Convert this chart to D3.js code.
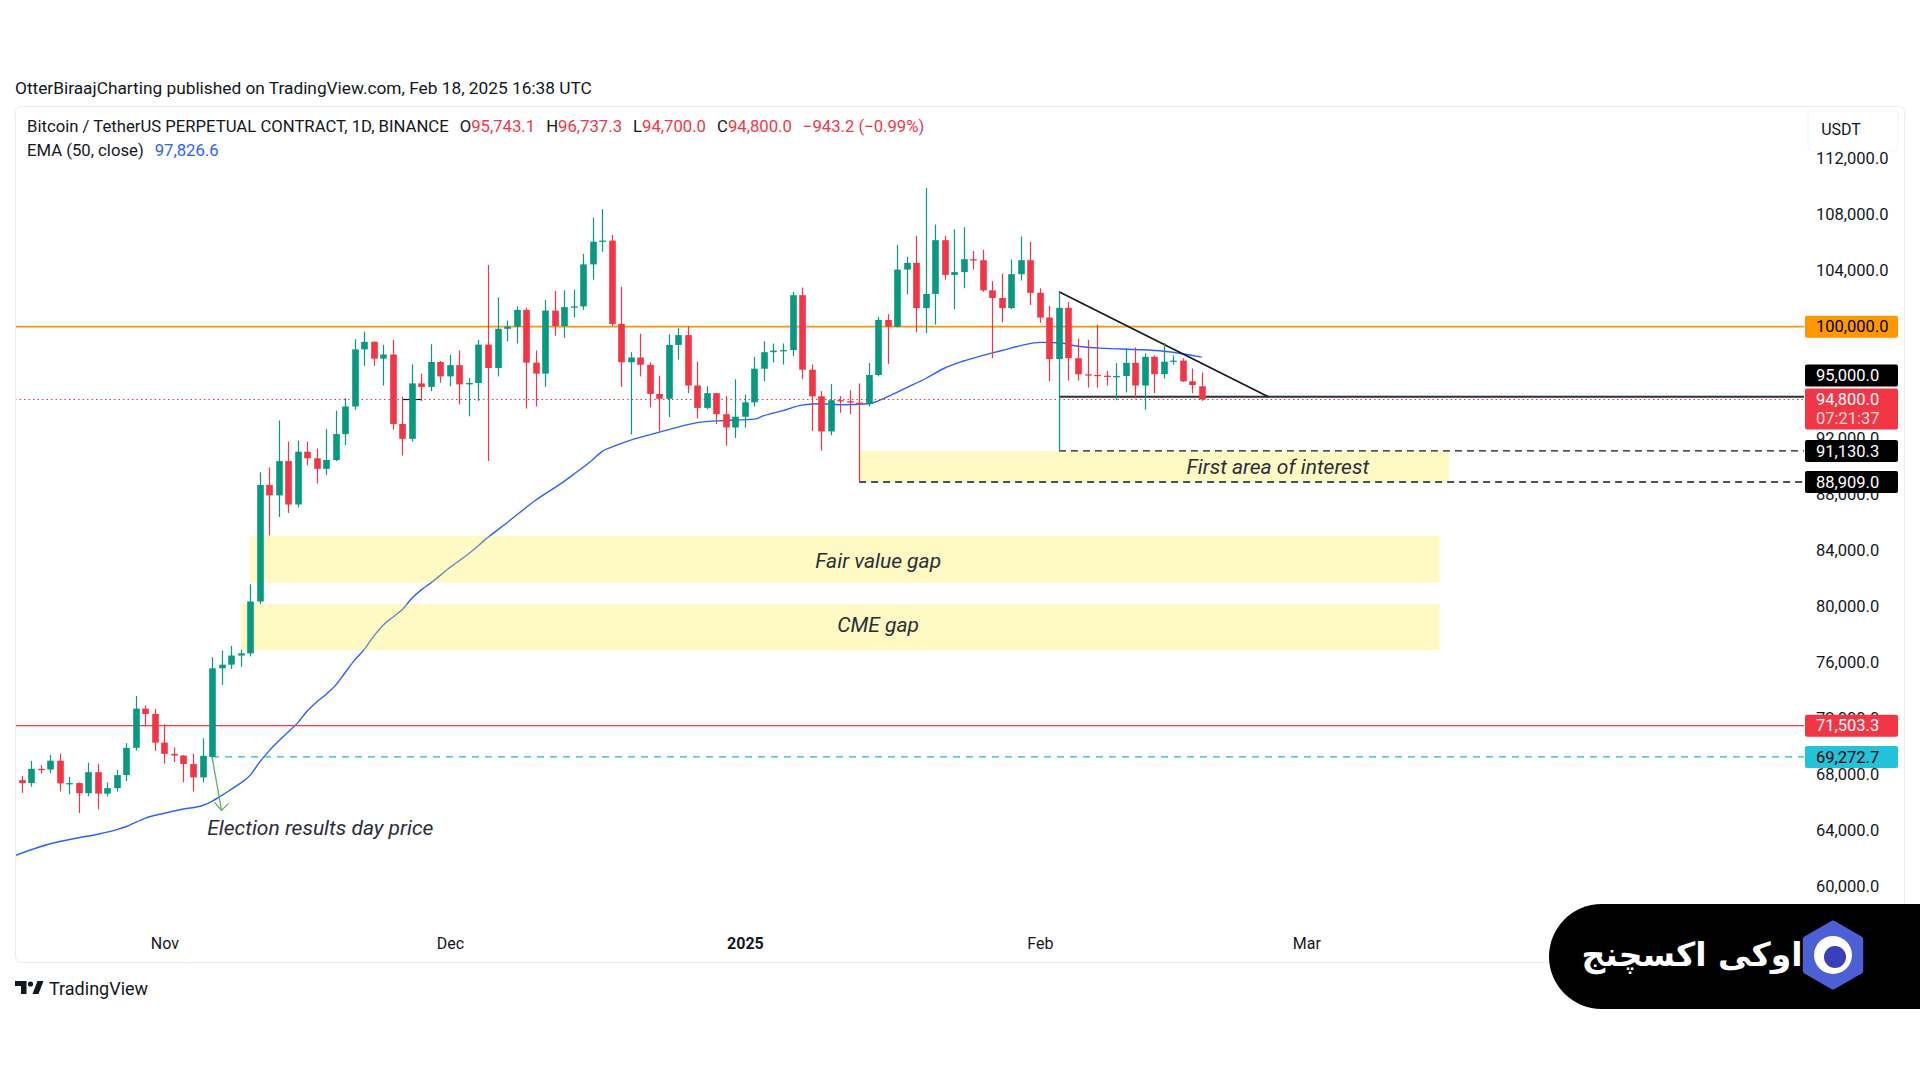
<!DOCTYPE html>
<html><head><meta charset="utf-8">
<script src="https://cdn.jsdelivr.net/npm/d3@7"></script>
<style>html,body{margin:0;padding:0;background:#fff;} svg{display:block;}</style>
</head><body><svg id="c" width="1920" height="1080"></svg>
<script>
// ---------------- DATA ----------------
const firstDay = "2024-10-16", lastDay = "2025-02-18";
const opens = [
 67050,67610,67400,68420,68370,69000,67380,67400,66680,68180,66650,67040,67970,69920,72720,72340,
 70290,69490,69370,68760,67810,69273,75600,75860,76510,76670,80370,88700,87950,90400,87300,91070,90600,89850,90480,92330,94300,98380,98920,97720,98010,93050,91990,95950,95700,97480,
 96450,97250,95880,95980,98720,97050,99850,100010,101200,97430,96650,101150,100050,101400,101450,104450,106070,106150,100200,97460,97800,97280,95200,94850,98700,99400,95800,94200,95250,93750,92800,
 93570,94600,97000,98180,98290,98330,102250,96930,95030,92520,94750,94680,94580,94500,96550,100480,100000,104080,104560,101330,102340,106180,103700,103900,104820,104750,102600,102050,101330,103750,104750,
 102420,100650,97690,101350,97750,96600,96560,96500,96460,96480,97420,95800,97850,96610,97500,97580,96100,95743.1];
const highs = [
 68420,67920,68980,68690,69400,69500,67850,67450,68850,68780,67450,68350,70250,73620,72950,72700,
 71600,69950,69400,69500,70600,76400,76880,77200,76930,81600,89600,89950,93300,91800,91850,91800,91300,92700,94000,94900,99100,99650,98950,98700,99050,95000,97300,96650,98750,97550,
 98000,98300,96350,99050,104400,102100,100450,101450,101350,98300,101900,102550,102600,102650,105200,107800,108400,106550,102850,98200,99500,97450,96500,99450,99900,100050,97500,95750,95280,95050,96250,
 95150,97850,98950,98800,98800,102500,102800,97300,95400,95900,95050,95450,95950,97400,100700,100900,105850,105000,106500,109900,107300,106500,106950,107100,105400,105500,103250,103800,104800,106450,106050,
 102750,101480,102500,101750,99150,99050,100150,96850,97400,98450,98520,98100,97950,98840,97950,97740,97020,96737.3];
const lows = [
 66750,66700,67150,68080,68100,66800,66600,65260,66450,65520,66450,66800,67550,69730,71450,69700,
 68800,68900,67450,66800,67450,69000,74420,75560,75700,76450,80200,85100,86400,86700,87100,90100,88800,89400,90400,91550,94070,97200,97200,95800,92650,90800,91800,94700,95400,96000,
 95750,94450,93600,94700,90400,96450,98950,98800,94150,94300,95700,99350,99200,100650,101200,103350,105350,100050,95700,92300,96450,94250,92550,93550,97650,95250,93450,94100,93050,91500,92050,
 92800,94300,96100,97450,97300,97900,96250,92550,91150,92250,93850,93750,88909,94300,96450,97350,99950,102300,99600,99550,100150,103350,101250,102750,104100,102500,97750,100300,101250,103300,101550,
 100280,96100,91130.3,96150,96150,95650,95650,95800,94750,95300,94880,94080,95250,96300,97290,96050,95250,94700];
const closes = [
 67610,67400,68420,68370,69000,67380,67400,66680,68180,66650,67040,67970,69920,72720,72340,70290,
 69490,69370,68760,67810,69350,75600,75860,76510,76670,80370,88700,87950,90400,87300,91070,90600,89850,90480,92330,94300,98380,98920,97720,98010,93050,91990,95950,95700,97480,96450,
 97250,95880,95980,98720,97050,99850,100010,101200,97430,96650,101150,100050,101400,101450,104450,106070,106150,100200,97460,97800,97280,95200,94850,98700,99400,95800,94200,95250,93750,92800,93570,
 94600,97000,98180,98290,98330,102250,96930,95030,92520,94750,94680,94580,94500,96550,100480,100000,104080,104560,101330,102340,106180,103700,103900,104820,104750,102600,102050,101330,103750,104750,102420,
 100650,97690,101350,97750,96600,96560,96500,96460,96480,97420,95800,97850,96610,97500,97580,96100,95830,94800];

const emaDates = ["2024-10-16","2024-10-20","2024-10-23","2024-10-25","2024-10-27","2024-10-28","2024-10-30","2024-11-01","2024-11-03","2024-11-05","2024-11-06","2024-11-07","2024-11-08","2024-11-09","2024-11-10","2024-11-11","2024-11-12","2024-11-13","2024-11-14","2024-11-15","2024-11-16","2024-11-17","2024-11-18","2024-11-19","2024-11-20","2024-11-21","2024-11-22","2024-11-23","2024-11-24","2024-11-25","2024-11-26","2024-11-27","2024-11-28","2024-11-29","2024-12-01","2024-12-03","2024-12-05","2024-12-07","2024-12-10","2024-12-13","2024-12-14","2024-12-16","2024-12-17","2024-12-18","2024-12-20","2024-12-21","2024-12-24","2024-12-27","2024-12-30","2025-01-02","2025-01-03","2025-01-05","2025-01-07","2025-01-09","2025-01-11","2025-01-14","2025-01-16","2025-01-18","2025-01-20","2025-01-22","2025-01-24","2025-01-26","2025-01-28","2025-01-30","2025-02-01","2025-02-03","2025-02-05","2025-02-08","2025-02-11","2025-02-14","2025-02-18"];
const emaValues = [62150,63070,63500,63750,64075,64300,64900,65250,65550,65800,66100,66500,66950,67400,67950,68900,69700,70400,71050,71700,72550,73200,73750,74400,75300,76200,76950,77900,78700,79250,79800,80600,81200,81700,82800,83800,84950,86000,87600,88950,89450,90500,91100,91400,91900,92100,92650,93150,93300,93400,93650,94000,94400,94500,94430,94500,95000,95650,96300,97050,97550,97950,98300,98650,98880,98850,98600,98450,98370,98250,97830];

const priceTicks = [60000,64000,68000,72000,76000,80000,84000,88000,92000,104000,108000,112000];
const timeTicks = ["2024-11-01","2024-12-01","2025-01-01","2025-02-01","2025-03-01"];
const timeTickLabels = ["Nov","Dec","2025","Feb","Mar"];

const zoneNames = ["Fair value gap","CME gap","First area of interest"];
const zoneStart = ["2024-11-10","2024-11-09","2025-01-13"];
const zoneEnd = ["2025-03-15","2025-03-15","2025-03-16"];
const zoneLow = [81710,76900,88909];
const zoneHigh = [85070,80190,91130.3];
const zoneLabelDate = ["2025-01-15","2025-01-15","2025-02-26"];
const zoneLabelPrice = [83260,78730,90020];

const header = {symbol:"Bitcoin / TetherUS PERPETUAL CONTRACT, 1D, BINANCE", o:"95,743.1", h:"96,737.3", l:"94,700.0", c:"94,800.0", chg:"\u2212943.2 (\u22120.99%)", ema:"97,826.6"};

// ---------------- SETUP ----------------
const svg = d3.select("#c");
const parse = d3.utcParse("%Y-%m-%d");
const days = d3.utcDay.range(parse(firstDay), d3.utcDay.offset(parse(lastDay), 1));
const candles = days.map((d, i) => ({date: d, o: opens[i], h: highs[i], l: lows[i], c: closes[i]}));
const ema = emaDates.map((d, i) => ({date: parse(d), v: emaValues[i]}));

const P = {left: 15, right: 1804, top: 107, bottom: 934};
const x = d3.scaleUtc().domain([parse("2024-10-17"), parse("2025-02-18")]).range([21.7, 1201.7]);
const y = d3.scaleLinear().domain([60000, 112000]).range([886.7, 158.7]);
const FONT = "Roboto, 'Noto Sans', sans-serif";
const UP = "#089981", DOWN = "#f23645", INK = "#131722";

svg.append("rect").attr("width", 1920).attr("height", 1080).attr("fill", "#fff");

// title
svg.append("text").attr("x", 15).attr("y", 94).attr("font-family", FONT).attr("font-size", 17.3)
  .attr("fill", INK).text("OtterBiraajCharting published on TradingView.com, Feb 18, 2025 16:38 UTC");

// frame
svg.append("rect").attr("x", 15.5).attr("y", 106.5).attr("width", 1889).attr("height", 856)
  .attr("rx", 6).attr("fill", "#fff").attr("stroke", "#e9ebf0");

svg.append("clipPath").attr("id", "plotclip").append("rect")
  .attr("x", P.left + 1).attr("y", P.top + 1).attr("width", P.right - P.left - 1).attr("height", P.bottom - P.top);
const g = svg.append("g").attr("clip-path", "url(#plotclip)");

// EMA
g.append("path").datum(ema).attr("fill", "none").attr("stroke", "#2962ff").attr("stroke-width", 1.4)
  .attr("d", d3.line().x(d => x(d.date)).y(d => y(d.v)).curve(d3.curveMonotoneX));

// zones
zoneNames.forEach((n, i) => {
  g.append("rect").attr("x", x(parse(zoneStart[i]))).attr("width", x(parse(zoneEnd[i])) - x(parse(zoneStart[i])))
    .attr("y", y(zoneHigh[i])).attr("height", y(zoneLow[i]) - y(zoneHigh[i]))
    .attr("fill", "rgba(255,235,59,0.3)");
});

// horizontal levels
function hline(price, x0, x1, color, w, dash) {
  const l = g.append("line").attr("x1", x0).attr("x2", x1).attr("y1", y(price)).attr("y2", y(price))
    .attr("stroke", color).attr("stroke-width", w);
  if (dash) l.attr("stroke-dasharray", dash);
}
hline(100000, P.left, P.right, "#ff9800", 1.8);
hline(71503.3, P.left, P.right, "#f23645", 1.3);
hline(69272.7, x(parse("2024-11-06")), P.right, "#22b8cf", 1.3, "7,6");
hline(94800, P.left, P.right, "#f23645", 1, "1.5,3");
hline(95000, x(parse("2025-02-03")), P.right, "#2f3033", 2);
hline(91130.3, x(parse("2025-02-03")), P.right, "#131722", 1.4, "7,5");
hline(88909, x(parse("2025-01-13")), P.right, "#131722", 1.4, "7,5");
hline(94800, x(parse("2024-11-26")), x(parse("2024-11-28")), "#131722", 1.2);

// descending trend line
g.append("line").attr("x1", x(parse("2025-02-03"))).attr("y1", y(102500))
  .attr("x2", x(parse("2025-02-25"))).attr("y2", y(95000)).attr("stroke", "#131722").attr("stroke-width", 1.6);

// candles
const cg = g.append("g");
candles.forEach(d => {
  const col = d.c >= d.o ? UP : DOWN;
  const cx = Math.round(x(d.date)) + 0.5;
  cg.append("line").attr("x1", cx).attr("x2", cx).attr("y1", y(d.h)).attr("y2", y(d.l))
    .attr("stroke", col).attr("stroke-width", 1.2);
  const top = y(Math.max(d.o, d.c)), bot = y(Math.min(d.o, d.c));
  cg.append("rect").attr("x", cx - 3.3).attr("width", 6.6).attr("y", top)
    .attr("height", Math.max(1.3, bot - top)).attr("fill", col);
});

// election arrow
const a0 = [x(parse("2024-11-06")), y(69272.7)], a1 = [x(parse("2024-11-07")), y(65450)];
g.append("line").attr("x1", a0[0]).attr("y1", a0[1]).attr("x2", a1[0]).attr("y2", a1[1])
  .attr("stroke", "#5cb25c").attr("stroke-width", 1.3);
g.append("path").attr("d", `M${a1[0]-7},${a1[1]-8} L${a1[0]},${a1[1]} L${a1[0]+7},${a1[1]-7}`)
  .attr("fill", "none").attr("stroke", "#5cb25c").attr("stroke-width", 1.3);

// annotation texts
function note(txt, xx, yy, anchor) {
  g.append("text").attr("x", xx).attr("y", yy).attr("dy", "0.35em").attr("text-anchor", anchor)
    .attr("font-family", FONT).attr("font-style", "italic").attr("font-size", 21).attr("fill", "#2a2e39").text(txt);
}
note("Election results day price", x(d3.utcHour.offset(parse("2024-11-05"), 12)), y(64250), "start");
zoneNames.forEach((n, i) => note(n, x(parse(zoneLabelDate[i])), y(zoneLabelPrice[i]), "middle"));

// header legend
const ht = svg.append("text").attr("x", 27).attr("y", 132).attr("font-family", FONT).attr("font-size", 16.7).attr("fill", INK);
ht.append("tspan").text(header.symbol);
[["O", header.o], ["H", header.h], ["L", header.l], ["C", header.c]].forEach(([k, v]) => {
  ht.append("tspan").attr("dx", 11).text(k);
  ht.append("tspan").attr("fill", DOWN).text(v);
});
ht.append("tspan").attr("dx", 11).attr("fill", DOWN).text(header.chg);
const et = svg.append("text").attr("x", 27).attr("y", 156).attr("font-family", FONT).attr("font-size", 16.7).attr("fill", INK);
et.append("tspan").text("EMA (50, close)");
et.append("tspan").attr("dx", 11).attr("fill", "#2962ff").text(header.ema);

// price axis
const ya = svg.append("g").attr("transform", "translate(1805,0)")
  .call(d3.axisRight(y).tickValues(priceTicks).tickSize(0).tickPadding(11).tickFormat(d3.format(",.1f")));
ya.select(".domain").remove();
ya.selectAll("text").attr("font-family", FONT).attr("font-size", 16.5).attr("fill", INK);

// time axis
const xa = svg.append("g").attr("transform", `translate(0,${P.bottom})`)
  .call(d3.axisBottom(x).tickValues(timeTicks.map(parse)).tickSize(0).tickPadding(4)
    .tickFormat((d, i) => timeTickLabels[i]));
xa.select(".domain").remove();
xa.selectAll("text").attr("font-family", FONT).attr("font-size", 16).attr("fill", INK)
  .attr("font-weight", (d, i) => timeTickLabels[i] === "2025" ? "bold" : "normal");

// price tags
function tag(cy, lines, bg, fg) {
  const h = lines.length === 1 ? 22 : 41;
  const top = cy - 11;
  svg.append("rect").attr("x", 1805).attr("y", top).attr("width", 93).attr("height", h).attr("rx", 2).attr("fill", bg);
  lines.forEach((t, i) => svg.append("text").attr("x", 1816).attr("y", cy + i * 19).attr("dy", "0.35em")
    .attr("font-family", FONT).attr("font-size", 16.5).attr("fill", fg).attr("fill-opacity", i ? 0.85 : 1).text(t));
}
const fmt = d3.format(",.1f");
tag(y(100000), [fmt(100000)], "#ff9800", "#000");
tag(y(94800), [fmt(94800), "07:21:37"], "#f23645", "#fff");
tag(y(94800) - 11 - 2 - 11, [fmt(95000)], "#000", "#fff");
tag(y(91130.3), [fmt(91130.3)], "#000", "#fff");
tag(y(88909), [fmt(88909)], "#000", "#fff");
tag(y(71503.3), [fmt(71503.3)], "#f23645", "#fff");
tag(y(69272.7), [fmt(69272.7)], "#22c3d9", "#000");

// USDT box
svg.append("rect").attr("x", 1808).attr("y", 111).attr("width", 90).attr("height", 40).attr("rx", 4)
  .attr("fill", "#fff").attr("stroke", "#f0f2f6");
svg.append("text").attr("x", 1841).attr("y", 129).attr("dy", "0.35em").attr("text-anchor", "middle")
  .attr("font-family", FONT).attr("font-size", 16).attr("fill", INK).text("USDT");

// TradingView logo
const lg = svg.append("g").attr("fill", INK);
lg.append("path").attr("d", "M15,981 H26.5 V994 H21 V986 H15 Z");
lg.append("circle").attr("cx", 30.5).attr("cy", 984).attr("r", 2.6);
lg.append("path").attr("d", "M37.5,981 H43.5 L38.5,994 H32.5 Z");
svg.append("text").attr("x", 49).attr("y", 995).attr("font-family", FONT).attr("font-size", 18)
  .attr("fill", INK).text("TradingView");

// watermark
svg.append("rect").attr("x", 1549).attr("y", 904).attr("width", 420).attr("height", 105).attr("rx", 52.5).attr("fill", "#000");
svg.append("text").attr("x", 1692).attr("y", 966).attr("text-anchor", "middle").attr("font-family", "'DejaVu Sans', sans-serif")
  .attr("font-weight", "bold").attr("font-size", 33).attr("fill", "#fff").text("اوکی اکسچنج");
const hx = 1833, hy = 955, R = 32;
const hex = d3.range(6).map(k => { const a = Math.PI / 3 * k - Math.PI / 2; return [hx + R * Math.cos(a), hy + R * Math.sin(a)]; });
svg.append("path").attr("d", d3.line().curve(d3.curveLinearClosed)(hex)).attr("fill", "#4c5fd5")
  .attr("stroke", "#4c5fd5").attr("stroke-width", 5).attr("stroke-linejoin", "round");
svg.append("circle").attr("cx", hx).attr("cy", hy).attr("r", 19).attr("fill", "#fff");
svg.append("circle").attr("cx", hx + 2).attr("cy", hy + 2).attr("r", 11).attr("fill", "#3b3fb8");
</script></body></html>
